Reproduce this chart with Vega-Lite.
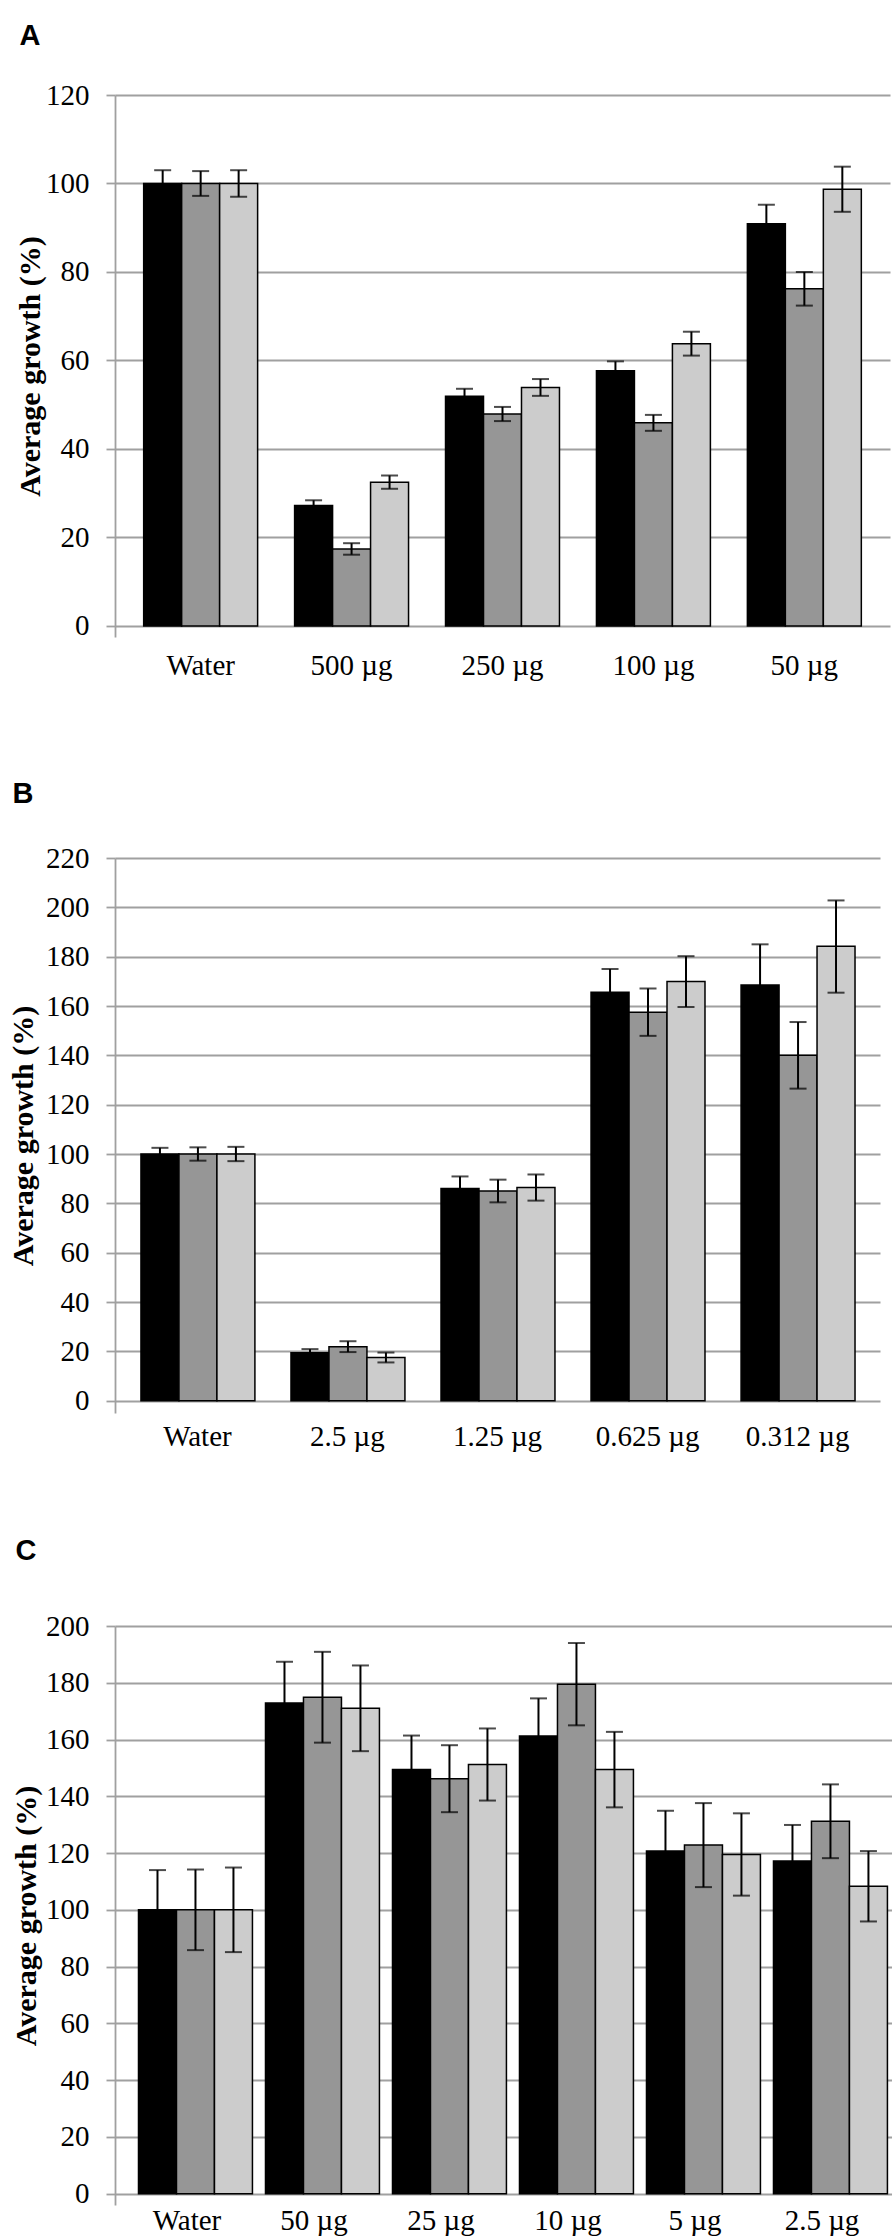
{
  "$schema": "https://vega.github.io/schema/vega-lite/v6.json",
  "padding": {"left": 8, "top": 22, "right": 3, "bottom": 4},
  "datasets": {
    "a": [
      {"dose": "Water", "s": "1", "mean": 100, "lo": 97, "hi": 103},
      {"dose": "Water", "s": "2", "mean": 100, "lo": 97.2, "hi": 102.8},
      {"dose": "Water", "s": "3", "mean": 100, "lo": 97, "hi": 103},
      {"dose": "500 µg", "s": "1", "mean": 27.2, "lo": 26, "hi": 28.4},
      {"dose": "500 µg", "s": "2", "mean": 17.4, "lo": 16.1, "hi": 18.7},
      {"dose": "500 µg", "s": "3", "mean": 32.5, "lo": 31, "hi": 34},
      {"dose": "250 µg", "s": "1", "mean": 51.9, "lo": 50.2, "hi": 53.6},
      {"dose": "250 µg", "s": "2", "mean": 47.9, "lo": 46.3, "hi": 49.5},
      {"dose": "250 µg", "s": "3", "mean": 53.9, "lo": 52, "hi": 55.8},
      {"dose": "100 µg", "s": "1", "mean": 57.7, "lo": 55.6, "hi": 59.8},
      {"dose": "100 µg", "s": "2", "mean": 45.9, "lo": 44.1, "hi": 47.7},
      {"dose": "100 µg", "s": "3", "mean": 63.8, "lo": 61.1, "hi": 66.5},
      {"dose": "50 µg", "s": "1", "mean": 90.9, "lo": 86.6, "hi": 95.2},
      {"dose": "50 µg", "s": "2", "mean": 76.2, "lo": 72.4, "hi": 80},
      {"dose": "50 µg", "s": "3", "mean": 98.7, "lo": 93.6, "hi": 103.8}
    ],
    "b": [
      {"dose": "Water", "s": "1", "mean": 100, "lo": 97.5, "hi": 102.5},
      {"dose": "Water", "s": "2", "mean": 100, "lo": 97.3, "hi": 102.7},
      {"dose": "Water", "s": "3", "mean": 100, "lo": 97.1, "hi": 102.9},
      {"dose": "2.5 µg", "s": "1", "mean": 19.4, "lo": 17.9, "hi": 20.9},
      {"dose": "2.5 µg", "s": "2", "mean": 21.9, "lo": 19.7, "hi": 24.1},
      {"dose": "2.5 µg", "s": "3", "mean": 17.5, "lo": 15.5, "hi": 19.5},
      {"dose": "1.25 µg", "s": "1", "mean": 86, "lo": 81.1, "hi": 90.9},
      {"dose": "1.25 µg", "s": "2", "mean": 85, "lo": 80.4, "hi": 89.6},
      {"dose": "1.25 µg", "s": "3", "mean": 86.4, "lo": 81.1, "hi": 91.7},
      {"dose": "0.625 µg", "s": "1", "mean": 165.6, "lo": 156.2, "hi": 175},
      {"dose": "0.625 µg", "s": "2", "mean": 157.5, "lo": 147.9, "hi": 167.1},
      {"dose": "0.625 µg", "s": "3", "mean": 169.9, "lo": 159.6, "hi": 180.2},
      {"dose": "0.312 µg", "s": "1", "mean": 168.5, "lo": 152, "hi": 185},
      {"dose": "0.312 µg", "s": "2", "mean": 140, "lo": 126.5, "hi": 153.5},
      {"dose": "0.312 µg", "s": "3", "mean": 184.2, "lo": 165.4, "hi": 202.8}
    ],
    "c": [
      {"dose": "Water", "s": "1", "mean": 100, "lo": 86, "hi": 114},
      {"dose": "Water", "s": "2", "mean": 100, "lo": 85.8, "hi": 114.2},
      {"dose": "Water", "s": "3", "mean": 100, "lo": 85.1, "hi": 114.9},
      {"dose": "50 µg", "s": "1", "mean": 172.9, "lo": 158.4, "hi": 187.4},
      {"dose": "50 µg", "s": "2", "mean": 174.9, "lo": 158.9, "hi": 190.9},
      {"dose": "50 µg", "s": "3", "mean": 171, "lo": 155.9, "hi": 186.1},
      {"dose": "25 µg", "s": "1", "mean": 149.4, "lo": 137.4, "hi": 161.4},
      {"dose": "25 µg", "s": "2", "mean": 146.2, "lo": 134.4, "hi": 158},
      {"dose": "25 µg", "s": "3", "mean": 151.2, "lo": 138.5, "hi": 163.9},
      {"dose": "10 µg", "s": "1", "mean": 161.2, "lo": 147.9, "hi": 174.5},
      {"dose": "10 µg", "s": "2", "mean": 179.5, "lo": 165, "hi": 194},
      {"dose": "10 µg", "s": "3", "mean": 149.4, "lo": 136.1, "hi": 162.7},
      {"dose": "5 µg", "s": "1", "mean": 120.7, "lo": 106.5, "hi": 134.9},
      {"dose": "5 µg", "s": "2", "mean": 122.8, "lo": 108, "hi": 137.6},
      {"dose": "5 µg", "s": "3", "mean": 119.5, "lo": 105, "hi": 134},
      {"dose": "2.5 µg", "s": "1", "mean": 117.2, "lo": 104.5, "hi": 129.9},
      {"dose": "2.5 µg", "s": "2", "mean": 131.2, "lo": 118.2, "hi": 144.2},
      {"dose": "2.5 µg", "s": "3", "mean": 108.3, "lo": 95.9, "hi": 120.7}
    ]
  },
  "spacing": 100,
  "vconcat": [
    {
      "title": {"text": "A", "offset": 30},
      "width": 775,
      "height": 542,
      "data": {"name": "a"},
      "encoding": {
        "x": {
          "field": "dose", "type": "nominal", "sort": null,
          "scale": {"paddingInner": 0.245, "paddingOuter": 0.19},
          "axis": {"labelPadding": 14}
        },
        "xOffset": {"field": "s", "type": "nominal"}
      },
      "layer": [
        {
          "mark": {"type": "bar", "stroke": "black", "strokeWidth": 1.5},
          "encoding": {
            "y": {
              "field": "mean", "type": "quantitative",
              "scale": {"domain": [-2.5, 120], "nice": false},
              "axis": {"values": [0, 20, 40, 60, 80, 100, 120], "title": "Average growth (%)", "titlePadding": 0}
            },
            "color": {
              "field": "s", "type": "nominal", "legend": null,
              "scale": {"domain": ["1", "2", "3"], "range": ["#000000", "#969696", "#cccccc"]}
            }
          }
        },
        {
          "mark": {"type": "rule", "color": "black", "strokeWidth": 2},
          "encoding": {
            "y": {"field": "lo", "type": "quantitative"},
            "y2": {"field": "hi"}
          }
        },
        {
          "mark": {"type": "tick", "color": "black", "size": 17, "thickness": 2},
          "encoding": {"y": {"field": "lo", "type": "quantitative"}}
        },
        {
          "mark": {"type": "tick", "color": "black", "size": 17, "thickness": 2},
          "encoding": {"y": {"field": "hi", "type": "quantitative"}}
        }
      ]
    },
    {
      "spacing": 86,
      "vconcat": [
        {
          "title": {"text": "B", "offset": 35},
          "width": 765,
          "height": 555,
          "data": {"name": "b"},
          "encoding": {
            "x": {
              "field": "dose", "type": "nominal", "sort": null,
              "scale": {"paddingInner": 0.247, "paddingOuter": 0.173},
              "axis": {"labelPadding": 9}
            },
            "xOffset": {"field": "s", "type": "nominal"}
          },
          "layer": [
            {
              "mark": {"type": "bar", "stroke": "black", "strokeWidth": 1.5},
              "encoding": {
                "y": {
                  "field": "mean", "type": "quantitative",
                  "scale": {"domain": [-5, 220], "nice": false},
                  "axis": {"values": [0, 20, 40, 60, 80, 100, 120, 140, 160, 180, 200, 220], "title": "Average growth (%)", "titlePadding": 7}
                },
                "color": {
                  "field": "s", "type": "nominal", "legend": null,
                  "scale": {"domain": ["1", "2", "3"], "range": ["#000000", "#969696", "#cccccc"]}
                }
              }
            },
            {
              "mark": {"type": "rule", "color": "black", "strokeWidth": 2},
              "encoding": {
                "y": {"field": "lo", "type": "quantitative"},
                "y2": {"field": "hi"}
              }
            },
            {
              "mark": {"type": "tick", "color": "black", "size": 17, "thickness": 2},
              "encoding": {"y": {"field": "lo", "type": "quantitative"}}
            },
            {
              "mark": {"type": "tick", "color": "black", "size": 17, "thickness": 2},
              "encoding": {"y": {"field": "hi", "type": "quantitative"}}
            }
          ]
        },
        {
          "title": {"text": "C", "offset": 46},
          "width": 779,
          "height": 579,
          "data": {"name": "c"},
          "encoding": {
            "x": {
              "field": "dose", "type": "nominal", "sort": null,
              "scale": {"paddingInner": 0.236, "paddingOuter": 0.185},
              "axis": {"labelPadding": 1}
            },
            "xOffset": {"field": "s", "type": "nominal"}
          },
          "layer": [
            {
              "mark": {"type": "bar", "stroke": "black", "strokeWidth": 1.5},
              "encoding": {
                "y": {
                  "field": "mean", "type": "quantitative",
                  "scale": {"domain": [-4, 200], "nice": false},
                  "axis": {"values": [0, 20, 40, 60, 80, 100, 120, 140, 160, 180, 200], "title": "Average growth (%)", "titlePadding": 4}
                },
                "color": {
                  "field": "s", "type": "nominal", "legend": null,
                  "scale": {"domain": ["1", "2", "3"], "range": ["#000000", "#969696", "#cccccc"]}
                }
              }
            },
            {
              "mark": {"type": "rule", "color": "black", "strokeWidth": 2},
              "encoding": {
                "y": {"field": "lo", "type": "quantitative"},
                "y2": {"field": "hi"}
              }
            },
            {
              "mark": {"type": "tick", "color": "black", "size": 17, "thickness": 2},
              "encoding": {"y": {"field": "lo", "type": "quantitative"}}
            },
            {
              "mark": {"type": "tick", "color": "black", "size": 17, "thickness": 2},
              "encoding": {"y": {"field": "hi", "type": "quantitative"}}
            }
          ]
        }
      ]
    }
  ],
  "config": {
    "view": {"stroke": null},
    "title": {
      "anchor": "start", "frame": "bounds", "dx": 4,
      "font": "Liberation Sans", "fontSize": 29, "fontWeight": "bold",
      "color": "black", "baseline": "alphabetic"
    },
    "axis": {
      "labelFont": "Liberation Serif", "labelFontSize": 29, "labelColor": "black",
      "titleFont": "Liberation Serif", "titleFontSize": 30, "titleFontWeight": "bold", "titleColor": "black",
      "gridColor": "#a0a0a0", "gridWidth": 1.8,
      "domainColor": "#a0a0a0", "domainWidth": 1.8,
      "tickColor": "#a0a0a0", "tickWidth": 1.8
    },
    "axisY": {"grid": true, "tickSize": 9, "labelPadding": 17},
    "axisX": {"title": null, "labelAngle": 0, "domain": false, "ticks": false, "tickSize": 0, "grid": false}
  }
}
